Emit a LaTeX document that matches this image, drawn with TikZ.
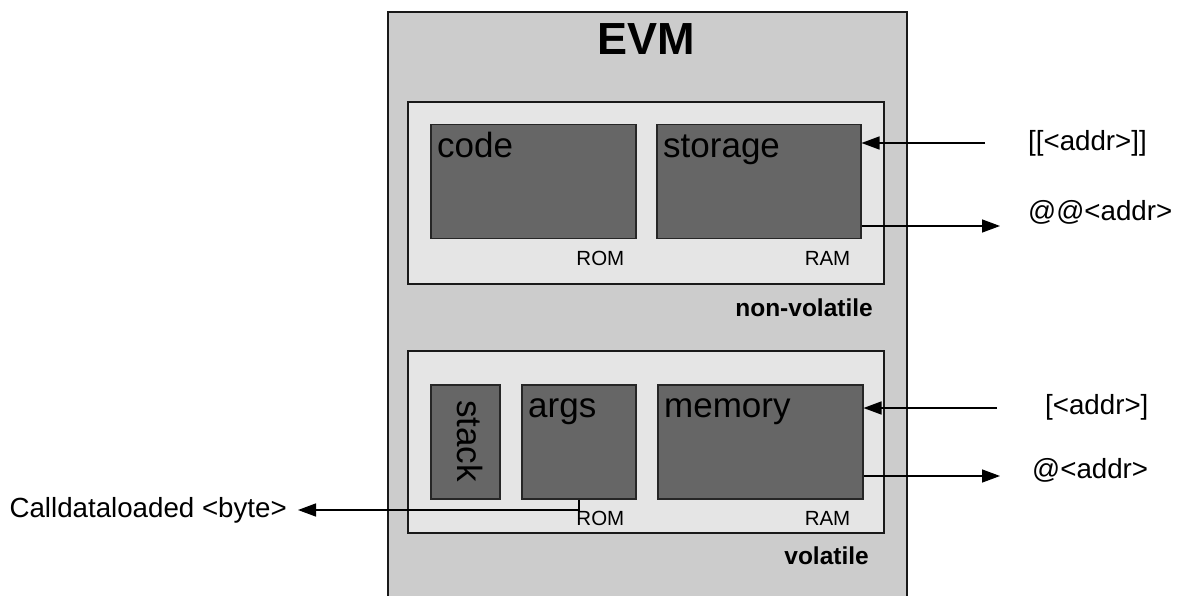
\documentclass[tikz,border=0pt]{standalone}
\usepackage{fontspec}
\setmainfont{Liberation Sans}
\usetikzlibrary{arrows.meta}
\definecolor{evmgray}{HTML}{CCCCCC}
\definecolor{palegray}{HTML}{E5E5E5}
\definecolor{boxgray}{HTML}{666666}
\newcommand\setfs[1]{\fontsize{#1}{#1}\selectfont}

\begin{document}
\begin{tikzpicture}[x=1pt, y=-1pt]
    \tikzstyle{region_style} = [draw=black!90, line width=2pt, fill=palegray, rectangle, anchor=north west, inner sep=0pt]
    \tikzstyle{mem_style} = [draw=black!85, line width=1.5pt, fill=boxgray, rectangle, anchor=north west, inner sep=0pt]
    \tikzstyle{arrow_style} = [-{Triangle[length=18pt, width=13pt]}, line width=1.5pt, black]
    \tikzstyle{name_style} = [anchor=base west, inner sep=0pt, font=\setfs{35}]
    \tikzstyle{kind_style} = [anchor=base east, inner sep=0pt, font=\setfs{20.5}]
    \tikzstyle{addr_style} = [anchor=west, inner sep=0pt, font=\setfs{27.7}]

    \clip (0,0) rectangle (1178,596);

    % EVM frame
    \node[region_style, fill=evmgray, minimum width=519pt, minimum height=620pt] (evm) at (387,11) {};
    \node[font=\bfseries\setfs{45}] (title) at (646,39) {EVM};

    % non-volatile part
    \begin{scope}
      \node[region_style, minimum width=476pt, minimum height=182pt] (nonvol) at (407,101) {};
      \node[mem_style, minimum width=205pt, minimum height=114pt] (code) at (430,124) {};
      \node[mem_style, minimum width=204pt, minimum height=114pt] (storage) at (656,124) {};
      \node[name_style] (code_name) at ([xshift=7pt, yshift=-34pt]code.north west) {code};
      \node[name_style] (storage_name) at ([xshift=7pt, yshift=-34pt]storage.north west) {storage};
      \node[kind_style] (code_kind) at ([xshift=-12pt, yshift=-26pt]code.south east) {ROM};
      \node[kind_style] (storage_kind) at ([xshift=-11pt, yshift=-26pt]storage.south east) {RAM};
      \node[kind_style, font=\bfseries\setfs{24.5}] (nonvol_name) at (873,316) {non-volatile};
    \end{scope}

    % volatile part
    \begin{scope}
      \node[region_style, minimum width=476pt, minimum height=182pt] (vol) at (407,350) {};
      \node[mem_style, minimum width=69pt, minimum height=114pt] (stack) at (430,384) {};
      \node[mem_style, minimum width=114pt, minimum height=114pt] (args) at (521,384) {};
      \node[mem_style, minimum width=205pt, minimum height=114pt] (memory) at (657,384) {};
      \node[name_style, rotate=-90] (stack_name) at ([xshift=27pt, yshift=-16pt]stack.north west) {stack};
      \node[name_style] (args_name) at ([xshift=7pt, yshift=-33pt]args.north west) {args};
      \node[name_style] (memory_name) at ([xshift=7pt, yshift=-33pt]memory.north west) {memory};
      \node[kind_style] (args_kind) at ([xshift=-12pt, yshift=-26pt]args.south east) {ROM};
      \node[kind_style] (memory_kind) at ([xshift=-13pt, yshift=-26pt]memory.south east) {RAM};
      \node[kind_style, font=\bfseries\setfs{24.5}] (vol_name) at (869,564) {volatile};
    \end{scope}

    % accessors
    \node[addr_style] (sload) at (1028,143) {[[<addr>]]};
    \node[addr_style] (sstore) at (1028,212) {@@<addr>};
    \node[addr_style] (mload) at (1045,407) {[<addr>]};
    \node[addr_style] (mstore) at (1032,470) {@<addr>};
    \node[addr_style, anchor=east] (calldata) at (287,510) {Calldataloaded <byte>};

    \coordinate (sload_end) at (985,143);
    \coordinate (sstore_end) at (1000,226);
    \coordinate (mload_end) at (997,408);
    \coordinate (mstore_end) at (1000,476);

    \draw[arrow_style] (sload_end) -- (sload_end -| storage.east);
    \draw[arrow_style] (sstore_end -| storage.east) -- (sstore_end);
    \draw[arrow_style] (mload_end) -- (mload_end -| memory.east);
    \draw[arrow_style] (mstore_end -| memory.east) -- (mstore_end);
    \draw[arrow_style] (args.south) |- ([xshift=11pt]calldata.east);
\end{tikzpicture}
\end{document}
